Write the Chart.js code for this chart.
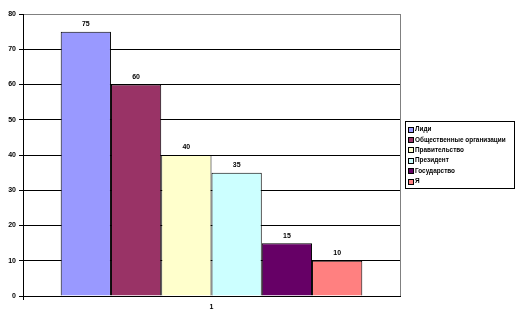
<!DOCTYPE html>
<html lang="ru">
<head>
<meta charset="UTF-8">
<title>Chart</title>
<script src="https://cdn.jsdelivr.net/npm/chart.js"></script>
<style>
  html, body { margin: 0; padding: 0; background: #fff; }
  #wrap { width: 516px; height: 322px; }
</style>
</head>
<body>
<div id="wrap"><canvas id="chart" width="516" height="322"></canvas></div>
<script>
  // data
  const categories = ["1"];
  const seriesNames = ["Лиди", "Общественные организации", "Правительство", "Президент", "Государство", "Я"];
  const seriesValues = [75, 60, 40, 35, 15, 10];
  const seriesColors = ["#9999FF", "#993366", "#FFFFCC", "#CCFFFF", "#660066", "#FF8080"];
  const yTicks = [0, 10, 20, 30, 40, 50, 60, 70, 80];

  const FONT = "'Liberation Sans', Arial, sans-serif";

  // value labels above each bar
  const barLabels = {
    id: "barLabels",
    afterDatasetsDraw(chart) {
      const ctx = chart.ctx;
      ctx.save();
      ctx.font = "bold 7px " + FONT;
      ctx.fillStyle = "#000";
      ctx.textAlign = "center";
      ctx.textBaseline = "bottom";
      chart.data.datasets.forEach((ds, i) => {
        chart.getDatasetMeta(i).data.forEach((bar, j) => {
          ctx.fillText(String(ds.data[j]), bar.x, bar.y - 4);
        });
      });
      ctx.restore();
    }
  };

  // excel-like boxed legend on the right
  const boxLegend = {
    id: "boxLegend",
    afterDraw(chart) {
      const ctx = chart.ctx;
      const x0 = 405.5, y0 = 121.5, w = 109, h = 67;
      ctx.save();
      ctx.strokeStyle = "#000";
      ctx.lineWidth = 1;
      ctx.strokeRect(x0, y0, w, h);
      ctx.font = "bold 6.4px " + FONT;
      ctx.textBaseline = "middle";
      ctx.textAlign = "left";
      chart.data.datasets.forEach((ds, i) => {
        const cy = 129.5 + i * 10.4;
        ctx.fillStyle = ds.backgroundColor;
        ctx.fillRect(408.5, Math.round(cy) - 2.5, 5, 5);
        ctx.strokeStyle = "#000";
        ctx.strokeRect(408.5, Math.round(cy) - 2.5, 5, 5);
        ctx.fillStyle = "#000";
        ctx.fillText(ds.label, 415, cy);
      });
      ctx.restore();
    }
  };

  new Chart(document.getElementById("chart"), {
    type: "bar",
    data: {
      labels: categories,
      datasets: seriesNames.map((name, i) => ({
        label: name,
        data: [seriesValues[i]],
        backgroundColor: seriesColors[i],
        borderColor: "#000",
        borderWidth: 1,
        barPercentage: 1,
        categoryPercentage: 0.8
      }))
    },
    options: {
      responsive: false,
      animation: false,
      layout: { padding: { left: 0, top: 14, right: 116, bottom: 0 } },
      plugins: {
        legend: { display: false },
        tooltip: { enabled: false }
      },
      scales: {
        x: {
          grid: {
            offset: true,
            color: (c) => c.index === 0 ? "#000" : "#808080",
            tickColor: (c) => c.index === 0 ? "#000" : "rgba(0,0,0,0)",
            tickLength: 4
          },
          border: { color: "#000", width: 1 },
          ticks: { color: "#000", font: { family: FONT, size: 7, weight: "bold" }, padding: 3 },
          afterFit(scale) { scale.height = 26; }
        },
        y: {
          min: 0,
          max: 80,
          afterBuildTicks(scale) { scale.ticks = yTicks.map(v => ({ value: v })); },
          grid: {
            color: (c) => c.tick && c.tick.value === 80 ? "#808080" : "#000",
            tickColor: "#000",
            tickLength: 4
          },
          border: { color: "#000", width: 1 },
          ticks: { color: "#000", font: { family: FONT, size: 7, weight: "bold" }, padding: 3 },
          afterFit(scale) { scale.width = 23; }
        }
      }
    },
    plugins: [barLabels, boxLegend]
  });
</script>
</body>
</html>
